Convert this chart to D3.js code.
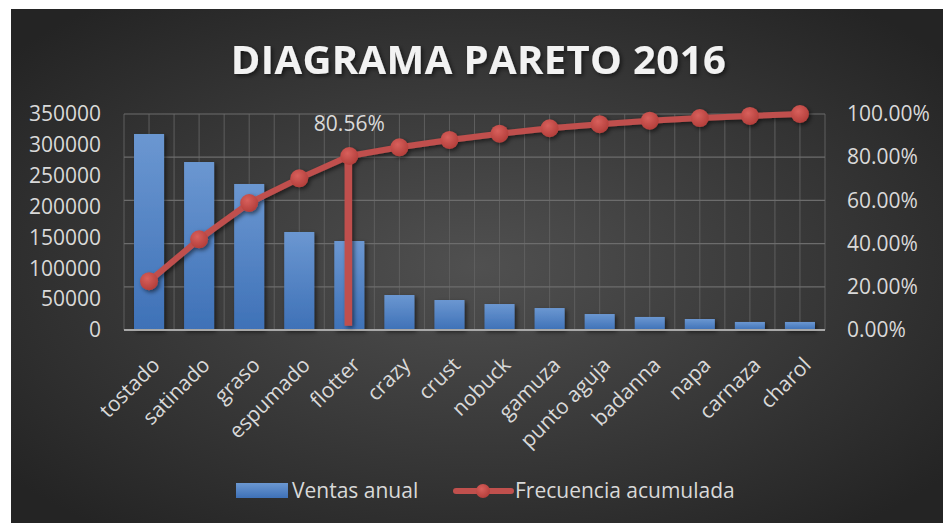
<!DOCTYPE html>
<html>
<head>
<meta charset="utf-8">
<script src="https://cdn.jsdelivr.net/npm/d3@7"></script>
<style>
  body { margin: 0; background: #fff; }
  text { font-family: "Open Sans", sans-serif; }
</style>
</head>
<body>
<svg id="chart" width="943" height="523"></svg>
<script>
// datos
var categorias = ["tostado", "satinado", "graso", "espumado", "flotter", "crazy", "crust",
                  "nobuck", "gamuza", "punto aguja", "badanna", "napa", "carnaza", "charol"];
var ventas = [317600, 272200, 236600, 158800, 144200, 56700, 48600,
              42100, 35600, 25900, 21100, 17800, 13000, 13000];
var acumulada = [22.6, 42.0, 58.8, 70.2, 80.56, 84.6, 88.0,
                 90.9, 93.4, 95.3, 96.9, 98.1, 99.1, 100];
var ticksVentas = [0, 50000, 100000, 150000, 200000, 250000, 300000, 350000];
var ticksPct = [0, 20, 40, 60, 80, 100];
var corte = "flotter";   // punto del 80%

var width = 943, height = 523;
var plot = {left: 124, right: 825, top: 114, bottom: 330};
var txtColor = "#d9d9d9";

var svg = d3.select("#chart");
var defs = svg.append("defs");

var bg = defs.append("radialGradient").attr("id", "bg")
  .attr("cx", "50%").attr("cy", "50%").attr("r", "65%");
bg.append("stop").attr("offset", "0%").attr("stop-color", "#505050");
bg.append("stop").attr("offset", "100%").attr("stop-color", "#242424");

var barGrad = defs.append("linearGradient").attr("id", "barGrad")
  .attr("x1", 0).attr("y1", 0).attr("x2", 0).attr("y2", 1);
barGrad.append("stop").attr("offset", "0%").attr("stop-color", "#6b97d1");
barGrad.append("stop").attr("offset", "100%").attr("stop-color", "#3e71b7");

var dotGrad = defs.append("radialGradient").attr("id", "dotGrad")
  .attr("cx", "40%").attr("cy", "35%").attr("r", "65%");
dotGrad.append("stop").attr("offset", "0%").attr("stop-color", "#d8605c");
dotGrad.append("stop").attr("offset", "100%").attr("stop-color", "#b43f3b");

var sombra = defs.append("filter").attr("id", "sombra")
  .attr("x", "-20%").attr("y", "-20%").attr("width", "160%").attr("height", "160%");
sombra.append("feDropShadow").attr("dx", 2).attr("dy", 2)
  .attr("stdDeviation", 2).attr("flood-color", "#000").attr("flood-opacity", 0.55);

// fondo
svg.append("rect").attr("x", 11).attr("y", 9)
  .attr("width", width - 11).attr("height", height - 9)
  .attr("fill", "url(#bg)");

// titulo
var titulo = svg.append("text")
  .attr("x", 478.5).attr("y", 74)
  .attr("text-anchor", "middle")
  .attr("font-size", 40).attr("font-weight", "bold")
  .attr("fill", "#f2f2f2")
  .attr("filter", "url(#sombra)")
  .text("DIAGRAMA PARETO 2016");
var tl = titulo.node().getComputedTextLength();
titulo.attr("letter-spacing", ((495 - tl) / 19).toFixed(2));

// escalas
var x = d3.scaleBand().domain(categorias)
  .range([plot.left, plot.right])
  .paddingInner(0.4).paddingOuter(0.2);
var yL = d3.scaleLinear().domain([0, 350000]).range([plot.bottom, plot.top]);
var yR = d3.scaleLinear().domain([0, 100]).range([plot.bottom, plot.top]);

// rejilla
var step = x.step();
var vert = d3.range(0, categorias.length * 2 + 1).map(function(k) { return plot.left + k * step / 2; });
svg.append("g").selectAll("line").data(vert).enter().append("line")
  .attr("x1", function(d) { return d; }).attr("x2", function(d) { return d; })
  .attr("y1", plot.top).attr("y2", plot.bottom)
  .attr("stroke", "#5e5e5e").attr("stroke-width", 1);
svg.append("g").selectAll("line").data(ticksPct.slice(1)).enter().append("line")
  .attr("x1", plot.left).attr("x2", plot.right)
  .attr("y1", function(d) { return yR(d); }).attr("y2", function(d) { return yR(d); })
  .attr("stroke", "#6c6c6c").attr("stroke-width", 1.2);

// barras
svg.append("g").attr("filter", "url(#sombra)")
  .selectAll("rect").data(ventas).enter().append("rect")
  .attr("x", function(d, i) { return x(categorias[i]); })
  .attr("y", function(d) { return yL(d); })
  .attr("width", x.bandwidth())
  .attr("height", function(d) { return plot.bottom - yL(d); })
  .attr("fill", "url(#barGrad)");

// eje base
svg.append("line").attr("x1", plot.left).attr("x2", plot.right)
  .attr("y1", plot.bottom).attr("y2", plot.bottom)
  .attr("stroke", "#a8a8a8").attr("stroke-width", 2);

// ejes
var axL = svg.append("g").attr("transform", "translate(101,0)")
  .call(d3.axisLeft(yL).tickValues(ticksVentas).tickSize(0).tickPadding(0).tickFormat(d3.format("d")));
axL.select(".domain").remove();
axL.selectAll("text").attr("font-size", 21).attr("fill", txtColor).attr("font-family", "Open Sans");

var axR = svg.append("g").attr("transform", "translate(847,0)")
  .call(d3.axisRight(yR).tickValues(ticksPct).tickSize(0).tickPadding(0)
    .tickFormat(function(d) { return d.toFixed(2) + "%"; }));
axR.select(".domain").remove();
axR.selectAll("text").attr("font-size", 21).attr("fill", txtColor).attr("font-family", "Open Sans");

// etiquetas categorias
svg.append("g").selectAll("text").data(categorias).enter().append("text")
  .attr("transform", function(d) { return "translate(" + (x(d) + x.bandwidth() / 2 + 7) + ",361) rotate(-45)"; })
  .attr("text-anchor", "end").attr("dy", "0.35em")
  .attr("font-size", 21).attr("fill", txtColor)
  .text(function(d) { return d; });

// linea acumulada
var cx = function(d, i) { return x(categorias[i]) + x.bandwidth() / 2; };
var lineG = svg.append("g").attr("filter", "url(#sombra)");
lineG.append("path").datum(acumulada)
  .attr("d", d3.line().x(cx).y(function(d) { return yR(d); }))
  .attr("fill", "none").attr("stroke", "#c0504d").attr("stroke-width", 6)
  .attr("stroke-linejoin", "round");

// linea vertical del 80%
var iCorte = categorias.indexOf(corte);
lineG.append("line")
  .attr("x1", x(corte) + x.bandwidth() / 2 - 1).attr("x2", x(corte) + x.bandwidth() / 2 - 1)
  .attr("y1", yR(acumulada[iCorte])).attr("y2", yR(2))
  .attr("stroke", "#c0504d").attr("stroke-width", 7.5);

lineG.selectAll("circle").data(acumulada).enter().append("circle")
  .attr("cx", cx).attr("cy", function(d) { return yR(d); })
  .attr("r", 9).attr("fill", "url(#dotGrad)");

svg.append("text")
  .attr("x", x(corte) + x.bandwidth() / 2).attr("y", 131)
  .attr("text-anchor", "middle").attr("font-size", 21).attr("fill", txtColor)
  .text(acumulada[iCorte].toFixed(2) + "%");

// leyenda
var ley = svg.append("g");
ley.append("rect").attr("x", 236).attr("y", 483).attr("width", 52).attr("height", 15)
  .attr("fill", "url(#barGrad)");
ley.append("text").attr("x", 292).attr("y", 498).attr("font-size", 21).attr("fill", txtColor)
  .text("Ventas anual");
ley.append("line").attr("x1", 456).attr("x2", 511).attr("y1", 491).attr("y2", 491)
  .attr("stroke", "#c0504d").attr("stroke-width", 6).attr("stroke-linecap", "round");
ley.append("circle").attr("cx", 483).attr("cy", 491).attr("r", 7).attr("fill", "url(#dotGrad)");
ley.append("text").attr("x", 515).attr("y", 498).attr("font-size", 21).attr("fill", txtColor)
  .text("Frecuencia acumulada");
</script>
</body>
</html>
